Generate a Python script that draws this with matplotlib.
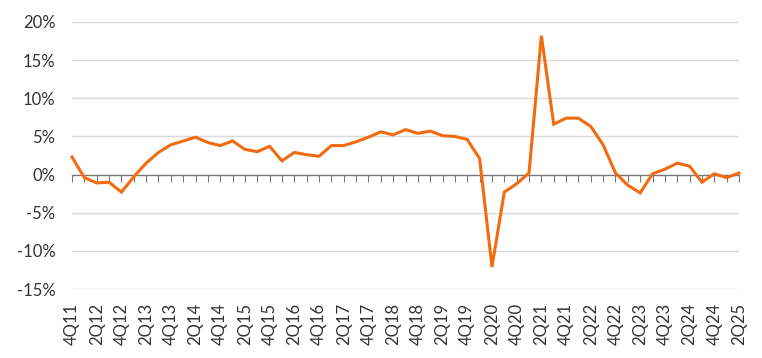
import matplotlib
matplotlib.use("Agg")
import matplotlib.pyplot as plt
from matplotlib.ticker import FuncFormatter

quarters = []
for yr in range(11, 26):
    for q in range(1, 5):
        if (yr == 11 and q < 4) or (yr == 25 and q > 2):
            continue
        quarters.append(f"{q}Q{yr:02d}")

values = [2.3, -0.4, -1.1, -1.0, -2.3, -0.3, 1.5, 2.9, 3.9, 4.4,
          4.9, 4.2, 3.8, 4.4, 3.3, 3.0, 3.7, 1.8, 2.9, 2.6,
          2.4, 3.8, 3.8, 4.3, 4.9, 5.6, 5.2, 5.9, 5.4, 5.7,
          5.1, 5.0, 4.6, 2.1, -12.1, -2.3, -1.2, 0.2, 18.2, 6.6,
          7.4, 7.4, 6.3, 3.9, 0.2, -1.4, -2.4, 0.1, 0.7, 1.5,
          1.1, -1.0, 0.1, -0.4, 0.2]

yticks = [-15, -10, -5, 0, 5, 10, 15, 20]

plt.rcParams['font.family'] = ['Lato', 'DejaVu Sans']

fig = plt.figure(figsize=(7.62, 3.58), dpi=100)
ax = fig.add_axes([72/762, 1-289/358, (739-72)/762, (289-22)/358])

x = list(range(len(values)))
ax.set_xlim(0, len(values)-1)
ax.set_ylim(-15, 20)

for yv in yticks:
    if yv != 0:
        ax.axhline(yv, color='#d9d9d9', lw=1.0, zorder=1)

ax.plot(x, values, color='#F26B10', lw=2.2, zorder=3, clip_on=False,
        solid_joinstyle='miter')

for s in ax.spines.values():
    s.set_visible(False)

ax.set_yticks(yticks)
ax.yaxis.set_major_formatter(FuncFormatter(lambda v, p: f"{int(v)}%"))
ax.tick_params(axis='y', length=0, pad=12, labelsize=12, labelcolor='#333333')

ax.set_xticks(x[::2])
ax.set_xticklabels(quarters[::2], rotation=90)
ax.tick_params(axis='x', length=0, pad=10, labelsize=12, labelcolor='#333333')

sec = ax.secondary_xaxis(0, transform=ax.transData)
sec.set_xticks(x)
sec.tick_params(axis='x', length=5, width=0.8, color='#777777', labelbottom=False, direction='out')
sec.spines['bottom'].set_color('#777777')
sec.spines['bottom'].set_linewidth(1.0)

fig.savefig("out.png", dpi=100)
